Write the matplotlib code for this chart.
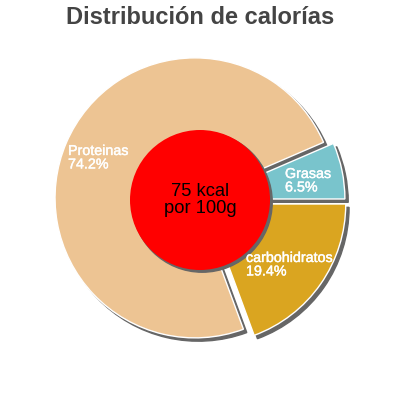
import matplotlib.pyplot as plt
import matplotlib.patheffects as pe
from matplotlib.patches import Shadow, Circle

# datos
categorias = ['Grasas', 'Proteinas', 'carbohidratos']
porcentajes = [6.5, 74.2, 19.4]
colores = ['#79c4cc', '#edc493', '#daa520']
centro_texto = '75 kcal\npor 100g'
titulo = 'Distribución de calorías'

plt.rcParams['font.family'] = ['Liberation Sans', 'DejaVu Sans']

fig = plt.figure(figsize=(4, 4), dpi=100)
ax = fig.add_axes([0, 0, 1, 1])

# coordenadas en pixeles, y hacia arriba
wedges, _ = ax.pie(porcentajes, colors=colores, startangle=0, counterclock=True,
                   radius=140, center=(200, 200), explode=[5, 5.4, 7],
                   wedgeprops=dict(edgecolor='white', linewidth=1))
for w in wedges:
    ax.add_patch(Shadow(w, 2.4, -2.4, facecolor='#666666', edgecolor='#666666', alpha=1))

circ = Circle((200, 200), 70, facecolor='red', edgecolor='none', zorder=3)
ax.add_patch(circ)
ax.add_patch(Shadow(circ, 1.6, -1.6, facecolor='#666666', edgecolor='#666666', alpha=1))

ax.text(200, 200, centro_texto, ha='center', va='center', fontsize=13.2,
        color='black', linespacing=1.0, zorder=5)

# etiquetas
pos_etiquetas = [(285, 233), (68, 256), (246, 149)]
for cat, val, (x, y) in zip(categorias, porcentajes, pos_etiquetas):
    ax.text(x, y, f'{cat}\n{val}%', ha='left', va='top', fontsize=10.3,
            color='white', linespacing=0.95, zorder=6,
            path_effects=[pe.withStroke(linewidth=0.3, foreground='white')])

ax.set_xlim(0, 400)
ax.set_ylim(0, 400)
ax.set_aspect('equal')
ax.axis('off')

fig.text(0.5, 1 - 17 / 400, titulo, ha='center', va='center', fontsize=17,
         fontweight='bold', color='#444444')

fig.savefig('out.png', dpi=100)
